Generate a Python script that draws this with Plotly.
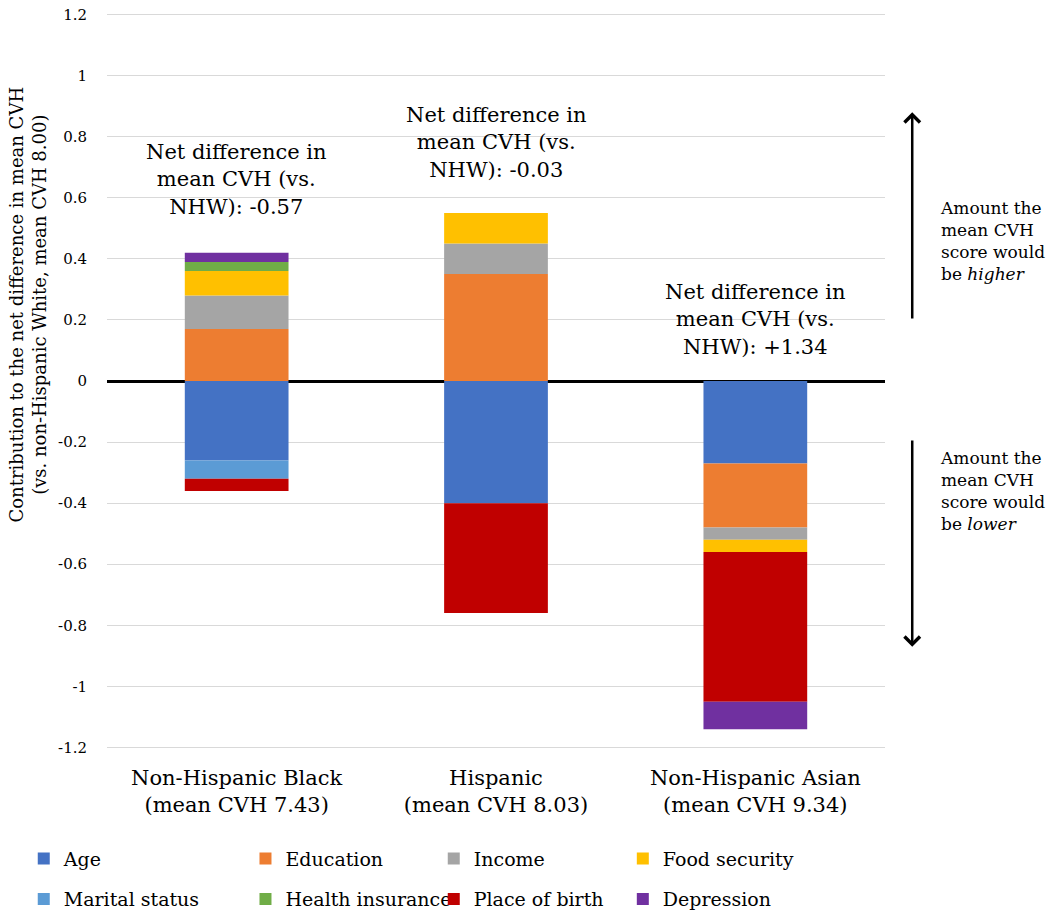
import plotly.graph_objects as go

categories = ["Non-Hispanic Black<br>(mean CVH 7.43)",
              "Hispanic<br>(mean CVH 8.03)",
              "Non-Hispanic Asian<br>(mean CVH 9.34)"]

factors = ["Age", "Education", "Income", "Food security",
           "Marital status", "Health insurance", "Place of birth", "Depression"]

age = [-0.26, -0.40, -0.27]
education = [0.17, 0.35, -0.21]
income = [0.11, 0.10, -0.04]
food_security = [0.08, 0.10, -0.04]
marital_status = [-0.06, 0.0, 0.0]
health_insurance = [0.03, 0.0, 0.0]
place_of_birth = [-0.04, -0.36, -0.49]
depression = [0.03, 0.0, -0.09]

net_labels = ["Net difference in<br>mean CVH (vs.<br>NHW): -0.57",
              "Net difference in<br>mean CVH (vs.<br>NHW): -0.03",
              "Net difference in<br>mean CVH (vs.<br>NHW): +1.34"]
net_label_y = [0.66, 0.78, 0.20]

tick_vals = [1.2, 1.0, 0.8, 0.6, 0.4, 0.2, 0.0, -0.2, -0.4, -0.6, -0.8, -1.0, -1.2]
tick_text = ["1.2", "1", "0.8", "0.6", "0.4", "0.2", "0", "-0.2", "-0.4", "-0.6", "-0.8", "-1", "-1.2"]

series = [age, education, income, food_security,
          marital_status, health_insurance, place_of_birth, depression]
colors = ["#4472C4", "#ED7D31", "#A5A5A5", "#FFC000",
          "#5B9BD5", "#70AD47", "#C00000", "#7030A0"]
legend_ids = ["legend", "legend2", "legend3", "legend4",
              "legend", "legend2", "legend3", "legend4"]

SERIF = "DejaVu Serif"

fig = go.Figure()
for name, vals, col, lg in zip(factors, series, colors, legend_ids):
    fig.add_trace(go.Bar(
        x=categories, y=vals, name=name, marker=dict(color=col, line=dict(width=0)),
        width=0.4, legend=lg, legendgroup=name,
    ))

for cat, txt, yy in zip(categories, net_labels, net_label_y):
    fig.add_annotation(x=cat, y=yy, xref="x", yref="y", text=txt, showarrow=False,
                       font=dict(family=SERIF, size=21, color="black"),
                       xanchor="center", yanchor="middle", align="center")

fig.add_annotation(x=-0.1015, y=0.604, xref="paper", yref="paper",
                   text="Contribution to the net difference in mean CVH<br>(vs. non-Hispanic White, mean CVH 8.00)",
                   textangle=-90, showarrow=False, xanchor="center", yanchor="middle",
                   font=dict(family=SERIF, size=18, color="black"))

fig.add_annotation(x=1.035, y=0.88, xref="paper", yref="y", ax=0, ay=0.2,
                   axref="pixel", ayref="y", showarrow=True, arrowhead=4,
                   arrowsize=1.2, arrowwidth=2.5, arrowcolor="black", text="")
fig.add_annotation(x=1.035, y=-0.87, xref="paper", yref="y", ax=0, ay=-0.19,
                   axref="pixel", ayref="y", showarrow=True, arrowhead=4,
                   arrowsize=1.2, arrowwidth=2.5, arrowcolor="black", text="")

fig.add_annotation(x=1.068, y=0.46, xref="paper", yref="y",
                   text="Amount the<br>mean CVH<br>score would<br>be <i>higher</i>",
                   showarrow=False, xanchor="left", yanchor="middle", align="left",
                   font=dict(family=SERIF, size=17, color="black"))
fig.add_annotation(x=1.068, y=-0.36, xref="paper", yref="y",
                   text="Amount the<br>mean CVH<br>score would<br>be <i>lower</i>",
                   showarrow=False, xanchor="left", yanchor="middle", align="left",
                   font=dict(family=SERIF, size=17, color="black"))

legend_common = dict(orientation="v", yanchor="top", xanchor="left", y=-0.123,
                     font=dict(family=SERIF, size=19, color="black"),
                     bgcolor="rgba(0,0,0,0)", tracegroupgap=13, itemwidth=30)

fig.update_layout(
    width=1050, height=917,
    margin=dict(l=107, r=165, t=13, b=168, autoexpand=False),
    paper_bgcolor="white", plot_bgcolor="white",
    barmode="relative", bargap=0.6,
    font=dict(family=SERIF, color="black"),
    showlegend=True,
    legend=dict(x=-0.107, **legend_common),
    legend2=dict(x=0.178, **legend_common),
    legend3=dict(x=0.42, **legend_common),
    legend4=dict(x=0.663, **legend_common),
    xaxis=dict(showgrid=False, showline=False, zeroline=False, ticks="",
               tickfont=dict(family=SERIF, size=21, color="black"),
               ticklabelstandoff=14, automargin=False),
    yaxis=dict(range=[-1.205, 1.205], tickvals=tick_vals, ticktext=tick_text,
               showgrid=True, gridcolor="#D9D9D9", gridwidth=1,
               zeroline=True, zerolinecolor="black", zerolinewidth=3,
               showline=False, ticks="", automargin=False,
               tickfont=dict(family=SERIF, size=15, color="black"),
               ticklabelstandoff=19),
)

fig.write_html("out.html", config={"displayModeBar": False},
               post_script="document.body.style.margin='0px';")
